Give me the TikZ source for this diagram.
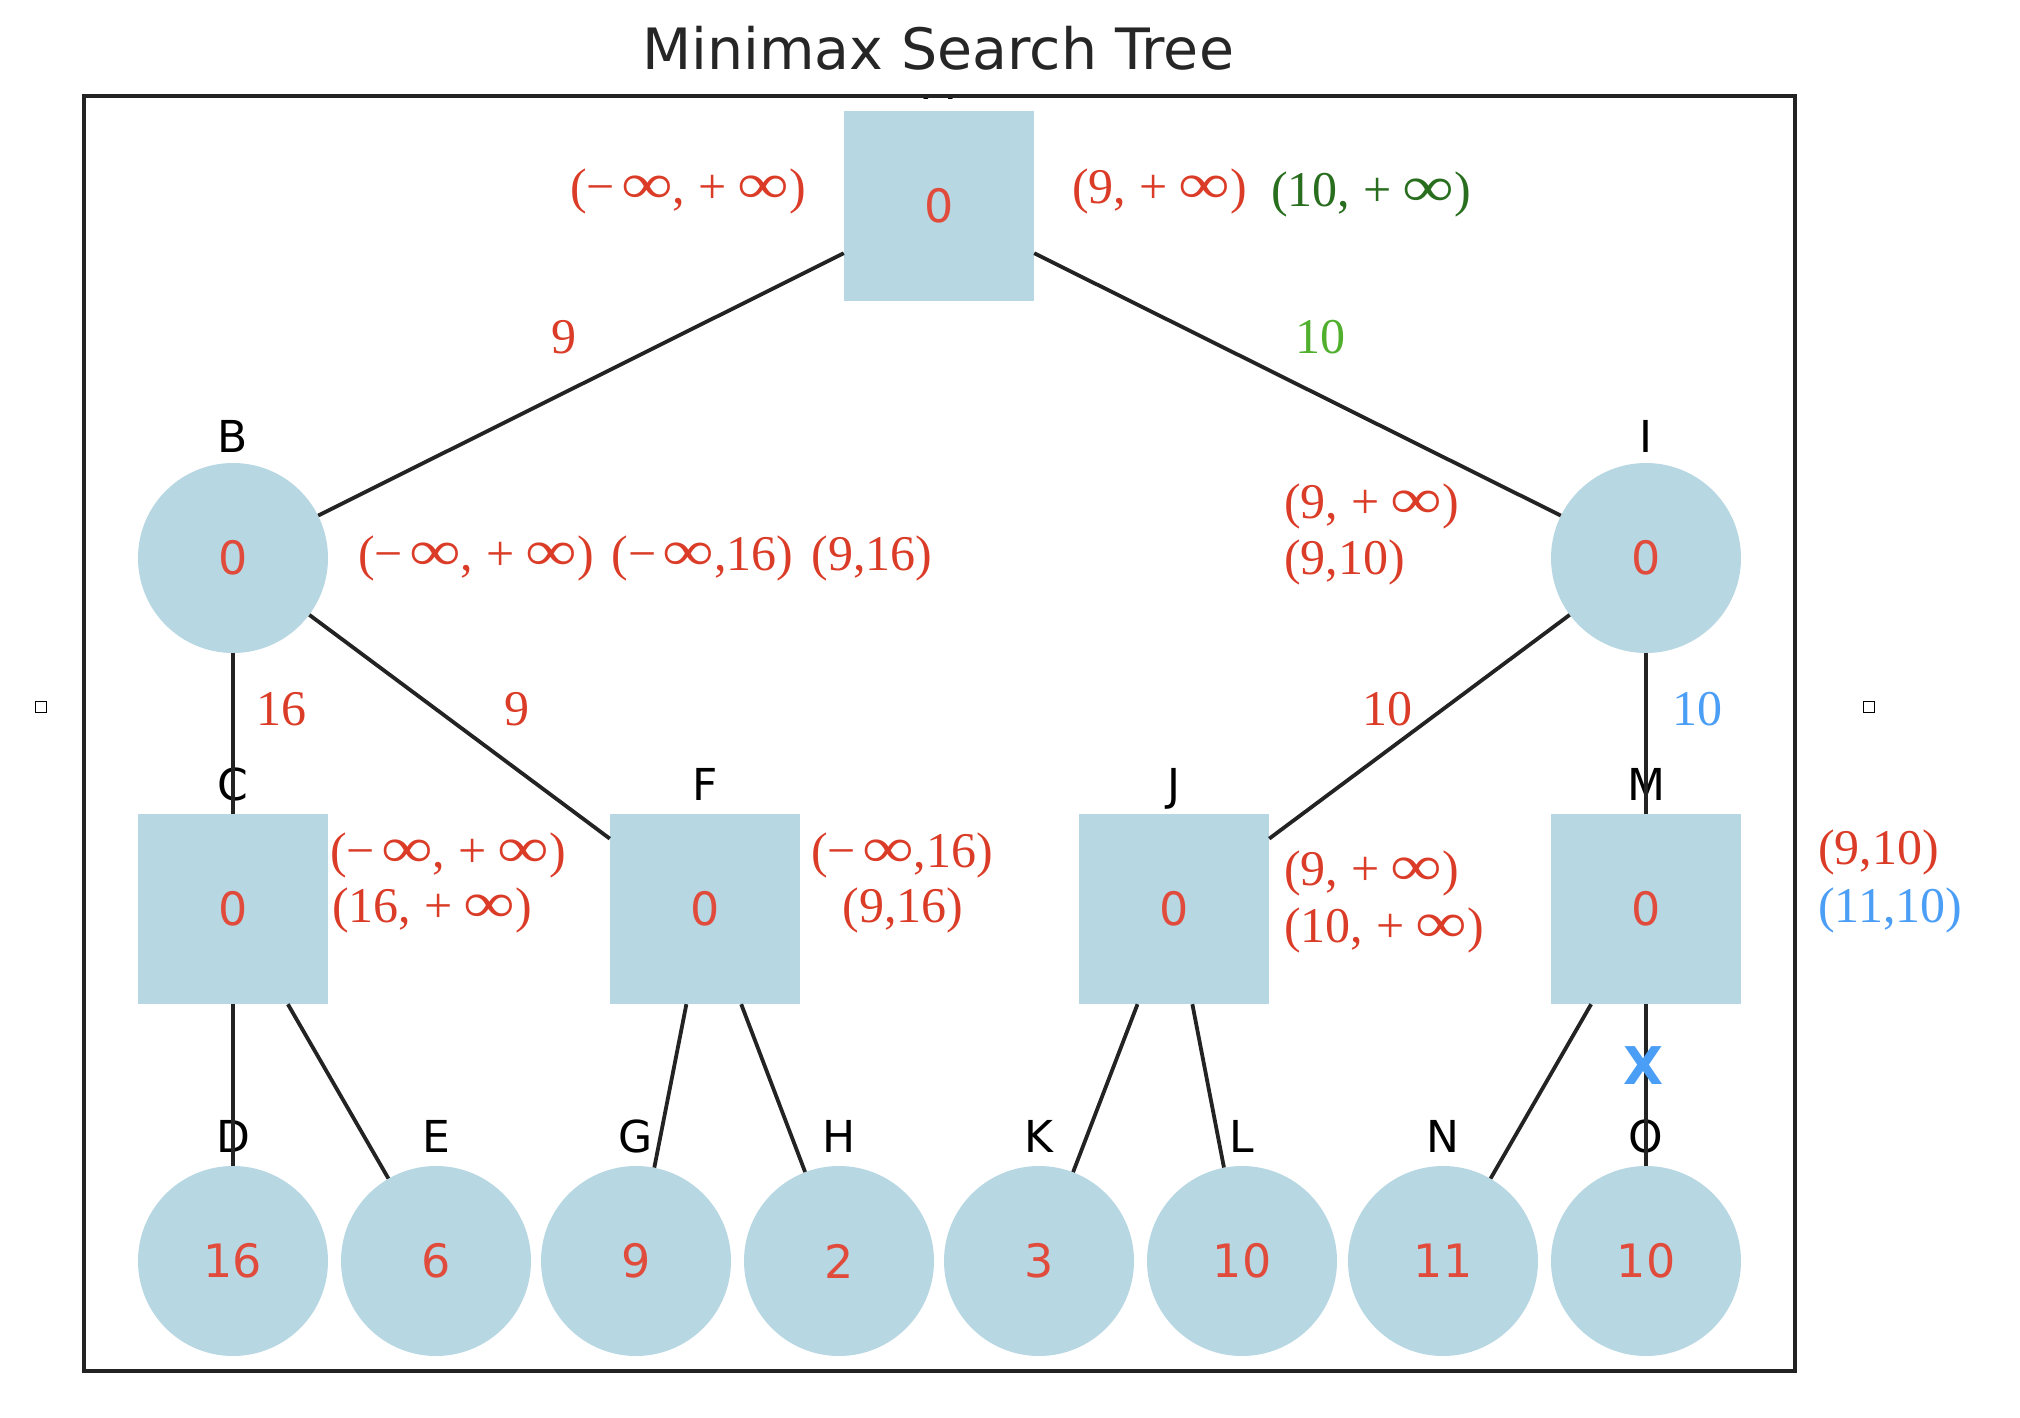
\documentclass[tikz,border=0pt]{standalone}
\usepackage{graphicx}
\usepackage{fontspec}
\setmainfont{Liberation Serif}
\newfontfamily\dejavu{DejaVu Sans}
\newcommand\myinf{\scalebox{1.45}[1.15]{∞}}
\newcommand\mneg{−\kern6pt\myinf}
\newcommand\mpos{+\kern11pt\myinf}
\newcommand\gsp{\hspace{18pt}}
\definecolor{nodefill}{RGB}{183,215,227}
\definecolor{annred}{RGB}{218,60,40}
\definecolor{valred}{RGB}{225,75,60}
\definecolor{dkgreen}{RGB}{40,110,30}
\definecolor{ltgreen}{RGB}{80,175,45}
\definecolor{annblue}{RGB}{75,158,245}
\definecolor{edgecol}{RGB}{35,35,35}
\definecolor{titlecol}{RGB}{38,38,38}
\begin{document}
\begin{tikzpicture}[x=1pt,y=-1pt,
  valfont/.style={font=\dejavu\fontsize{46}{50}\selectfont},
  sqnode/.style={rectangle,fill=nodefill,minimum width=190pt,minimum height=190pt,inner sep=0pt,text=valred,valfont},
  cinode/.style={circle,fill=nodefill,minimum size=190pt,inner sep=0pt,text=valred,valfont},
  letter/.style={anchor=base,inner sep=0pt,text=black,font=\dejavu\fontsize{44}{48}\selectfont},
  ann/.style={anchor=base west,inner sep=0pt,text=annred,font=\fontsize{50}{58}\selectfont},
  elab/.style={anchor=base,inner sep=0pt,text=annred,font=\fontsize{50}{58}\selectfont},
  conn/.style={draw=edgecol,line width=3.8pt},
  marker/.style={draw=black,line width=1.2pt,minimum size=11pt,inner sep=0pt}
]
\useasboundingbox (0,0) rectangle (2020,1418);

% title
\node[anchor=base,inner sep=0pt,text=titlecol,font=\dejavu\fontsize{57}{62}\selectfont] (title) at (938,70) {Minimax Search Tree};

% small markers
\node[marker] (mk1) at (41,707) {};
\node[marker] (mk2) at (1869,707) {};

% hidden root letter, clipped by the frame
\begin{scope}
  \clip (84,96) rectangle (1795,1371);
  \node[letter] (labA) at (939,100) {A};
\end{scope}

% frame
\draw[line width=3.5pt,draw=edgecol] (84,96) rectangle (1795,1371);

% nodes
\node[sqnode] (A) at (939,206) {0};
\node[cinode] (B) at (233,558) {0};
\node[cinode] (I) at (1646,558) {0};
\node[sqnode] (C) at (233,909) {0};
\node[sqnode] (F) at (705,909) {0};
\node[sqnode] (J) at (1174,909) {0};
\node[sqnode] (M) at (1646,909) {0};
\node[cinode] (D) at (233,1261) {16};
\node[cinode] (E) at (436,1261) {6};
\node[cinode] (G) at (636,1261) {9};
\node[cinode] (H) at (839,1261) {2};
\node[cinode] (K) at (1039,1261) {3};
\node[cinode] (L) at (1242,1261) {10};
\node[cinode] (N) at (1443,1261) {11};
\node[cinode] (O) at (1646,1261) {10};

% letters
\node[letter] (labB) at (233,452) {B};
\node[letter] (labI) at (1646,452) {I};
\node[letter] (labC) at (233,800) {C};
\node[letter] (labF) at (705,800) {F};
\node[letter] (labJ) at (1174,800) {J};
\node[letter] (labM) at (1646,800) {M};
\node[letter] (labD) at (233,1152) {D};
\node[letter] (labE) at (436,1152) {E};
\node[letter] (labG) at (636,1152) {G};
\node[letter] (labH) at (839,1152) {H};
\node[letter] (labK) at (1039,1152) {K};
\node[letter] (labL) at (1242,1152) {L};
\node[letter] (labN) at (1443,1152) {N};
\node[letter] (labO) at (1646,1152) {O};

% edges
\draw[conn] (A) -- (B);
\draw[conn] (A) -- (I);
\draw[conn] (B) -- (C);
\draw[conn] (B) -- (F);
\draw[conn] (I) -- (J);
\draw[conn] (I) -- (M);
\draw[conn] (C) -- (D);
\draw[conn] (C) -- (E);
\draw[conn] (F) -- (G);
\draw[conn] (F) -- (H);
\draw[conn] (J) -- (K);
\draw[conn] (J) -- (L);
\draw[conn] (M) -- (N);
\draw[conn] (M) -- (O);

% prune mark
\node[inner sep=0pt,text=annblue,font=\dejavu\bfseries\fontsize{52}{56}\selectfont] (cut) at (1644,1066) {X};

% edge labels
\node[elab] (eAB) at (564,353) {9};
\node[elab,text=ltgreen] (eAI) at (1320,353) {10};
\node[elab] (eBC) at (281,725) {16};
\node[elab] (eBF) at (517,725) {9};
\node[elab] (eIJ) at (1387,725) {10};
\node[elab,text=annblue] (eIM) at (1697,725) {10};

% annotations
\node[ann] (aA1) at (570,203) {(\mneg,\kern13pt\mpos)};
\node[ann] (aA2) at (1072,203) {(9,\kern13pt\mpos)};
\node[ann,text=dkgreen] (aA3) at (1271,206) {(10,\kern13pt\mpos)};
\node[ann] (aB) at (358,570) {(\mneg,\kern13pt\mpos)\gsp(\mneg,16)\gsp(9,16)};
\node[ann] (aI1) at (1284,518) {(9,\kern13pt\mpos)};
\node[ann] (aI2) at (1284,574) {(9,10)};
\node[ann] (aC1) at (330,867) {(\mneg,\kern13pt\mpos)};
\node[ann] (aC2) at (332,922) {(16,\kern13pt\mpos)};
\node[ann,anchor=base] (aF1) at (902,867) {(\mneg,16)};
\node[ann,anchor=base] (aF2) at (903,922) {(9,16)};
\node[ann] (aJ1) at (1284,885) {(9,\kern13pt\mpos)};
\node[ann] (aJ2) at (1284,942) {(10,\kern13pt\mpos)};
\node[ann] (aM1) at (1818,864) {(9,10)};
\node[ann,text=annblue] (aM2) at (1818,922) {(11,10)};
\end{tikzpicture}
\end{document}
